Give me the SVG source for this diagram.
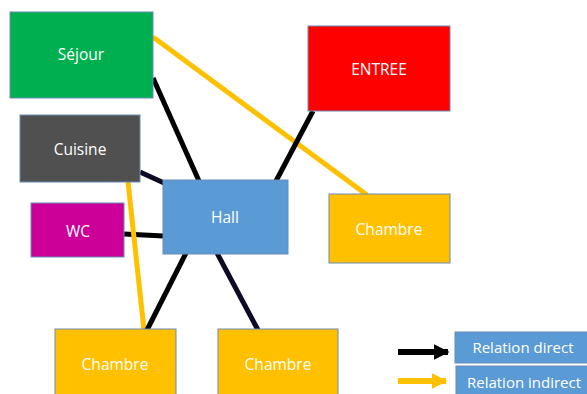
<svg xmlns="http://www.w3.org/2000/svg" width="587" height="394" viewBox="0 0 587 394">
<defs>
<style>
.box{stroke:#6A8CB4;stroke-width:1}
.t{font-family:"Open Sans","Liberation Sans",sans-serif;font-size:15.5px;fill:#ffffff;text-anchor:middle;dominant-baseline:central}
.lt{font-family:"Open Sans","Liberation Sans",sans-serif;font-size:15px;fill:#ffffff;text-anchor:middle;dominant-baseline:central}
.d{stroke:#000000;stroke-width:5;fill:none}
.dn{stroke:#0D0A26;stroke-width:5;fill:none}
.i{stroke:#FFC000;stroke-width:5;fill:none}
.la{stroke-width:6;fill:none}
</style>
<marker id="ab" viewBox="0 0 10 10" refX="9" refY="5" markerWidth="2.6" markerHeight="2.7" orient="auto" markerUnits="strokeWidth"><path d="M0,0 L10,5 L0,10 z" fill="#000000"/></marker>
<marker id="ay" viewBox="0 0 10 10" refX="9" refY="5" markerWidth="2.6" markerHeight="2.7" orient="auto" markerUnits="strokeWidth"><path d="M0,0 L10,5 L0,10 z" fill="#FFC000"/></marker>
</defs>
<rect width="587" height="394" fill="#ffffff"/>
<g id="connectors">
<line class="d" x1="153" y1="78" x2="199" y2="181"/>
<line class="i" x1="153" y1="37" x2="367" y2="195"/>
<line class="d" x1="313" y1="111" x2="276" y2="181"/>
<line class="dn" x1="140" y1="172" x2="164" y2="183"/>
<line class="d" x1="124" y1="234" x2="164" y2="236"/>
<line class="i" x1="128" y1="182" x2="144" y2="330"/>
<line class="d" x1="186" y1="253" x2="147" y2="330"/>
<line class="dn" x1="217" y1="253" x2="258" y2="330"/>
<line class="la" stroke="#000000" x1="398" y1="352" x2="448" y2="352" marker-end="url(#ab)"/>
<line class="la" stroke="#FFC000" x1="398" y1="381" x2="446" y2="381" marker-end="url(#ay)"/>
</g>
<g id="sejour"><rect class="box" x="10" y="12" width="143" height="86" fill="#00B050"/><text class="t" x="81" y="54">Séjour</text></g>
<g id="cuisine"><rect class="box" x="20" y="115" width="120" height="67" fill="#505050"/><text class="t" x="80" y="149">Cuisine</text></g>
<g id="entree"><rect class="box" x="308" y="26" width="142" height="85" fill="#FF0000"/><text class="t" x="379" y="69">ENTREE</text></g>
<g id="hall"><rect class="box" x="163" y="180" width="125" height="74" fill="#5B9BD5"/><text class="t" x="225" y="217">Hall</text></g>
<g id="wc"><rect class="box" x="31" y="203" width="93" height="54" fill="#CC0099"/><text class="t" x="78" y="231">WC</text></g>
<g id="chambre-droite"><rect class="box" x="329" y="194" width="121" height="69" fill="#FFC000"/><text class="t" x="389" y="229">Chambre</text></g>
<g id="chambre-bas-gauche"><rect class="box" x="55" y="329" width="121" height="80" fill="#FFC000"/><text class="t" x="115" y="364">Chambre</text></g>
<g id="chambre-bas-milieu"><rect class="box" x="218" y="329" width="120" height="80" fill="#FFC000"/><text class="t" x="278" y="364">Chambre</text></g>
<g id="legende-direct"><rect class="box" x="455" y="332" width="140" height="31" fill="#5B9BD5"/><text class="lt" x="523" y="347">Relation direct</text></g>
<g id="legende-indirect"><rect class="box" x="456" y="366" width="140" height="40" fill="#5B9BD5"/><text class="lt" x="524" y="382">Relation indirect</text></g>
</svg>
